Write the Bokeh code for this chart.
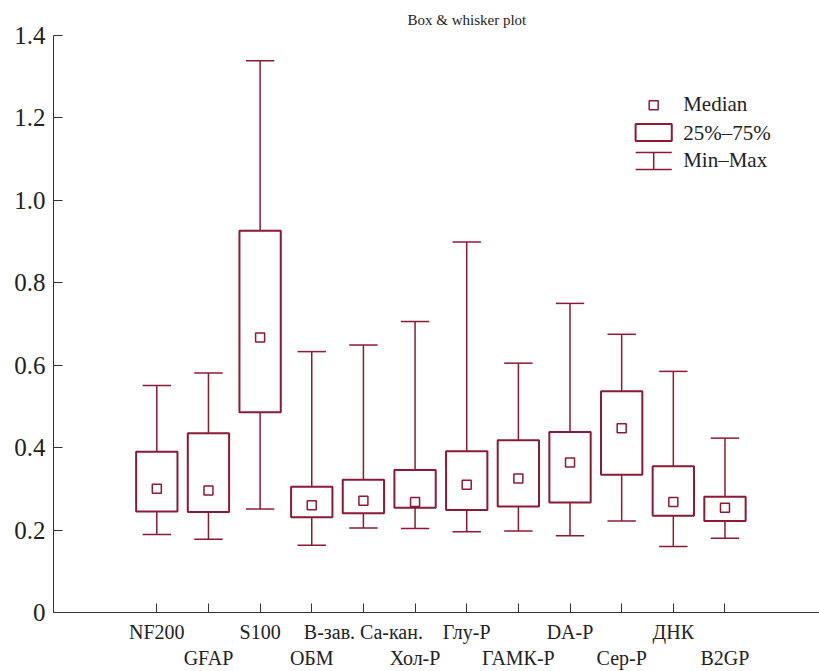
from bokeh.plotting import figure
from bokeh.models import FixedTicker, LinearAxis, Range1d
from bokeh.core.properties import value
from bokeh.embed import file_html
from bokeh.resources import INLINE

categories = ["NF200", "GFAP", "S100", "ОБМ", "В-зав. Са-кан.", "Хол-Р", "Глу-Р",
              "ГАМК-Р", "DA-P", "Сер-Р", "ДНК", "B2GP"]
mins    = [0.189, 0.178, 0.251, 0.163, 0.205, 0.204, 0.196, 0.198, 0.186, 0.222, 0.160, 0.180]
q1      = [0.245, 0.244, 0.486, 0.231, 0.241, 0.254, 0.249, 0.257, 0.267, 0.334, 0.235, 0.222]
medians = [0.300, 0.296, 0.667, 0.260, 0.271, 0.268, 0.310, 0.325, 0.364, 0.447, 0.268, 0.254]
q3      = [0.390, 0.435, 0.926, 0.305, 0.322, 0.346, 0.391, 0.418, 0.438, 0.537, 0.355, 0.281]
maxs    = [0.551, 0.581, 1.339, 0.633, 0.649, 0.706, 0.899, 0.605, 0.750, 0.675, 0.585, 0.423]
y_ticks = [0, 0.2, 0.4, 0.6, 0.8, 1.0, 1.2, 1.4]
y_tick_labels = ["0", "0.2", "0.4", "0.6", "0.8", "1.0", "1.2", "1.4"]
legend_labels = ["Median", "25%–75%", "Min–Max"]

COL = "#8b1a35"
FONT = "Liberation Serif"
TXT = "#222222"

xs = list(range(1, len(categories) + 1))

p = figure(width=819, height=671, output_backend="svg", toolbar_location=None,
           x_range=Range1d(-1, 13.83), y_range=Range1d(0, 1.4),
           min_border_left=53, min_border_right=0, min_border_top=35, min_border_bottom=57,
           title="Box & whisker plot")
p.title.text_font = FONT
p.title.text_font_size = "15px"
p.title.text_font_style = "normal"
p.title.align = "left"
p.title.offset = 354
p.title.text_color = TXT
p.title.standoff = 16
p.grid.visible = False
p.outline_line_color = None

# whiskers
p.segment(x0=xs, y0=mins, x1=xs, y1=q1, line_color=COL, line_width=1.5)
p.segment(x0=xs, y0=q3, x1=xs, y1=maxs, line_color=COL, line_width=1.5)
cw = 0.275
p.segment(x0=[x - cw for x in xs], y0=mins, x1=[x + cw for x in xs], y1=mins, line_color=COL, line_width=1.5)
p.segment(x0=[x - cw for x in xs], y0=maxs, x1=[x + cw for x in xs], y1=maxs, line_color=COL, line_width=1.5)
# boxes
bw = 0.4
p.quad(left=[x - bw for x in xs], right=[x + bw for x in xs], bottom=q1, top=q3,
       fill_color="white", line_color=COL, line_width=2)
# medians
p.scatter(x=xs, y=medians, marker="square", size=9, fill_color="white", line_color=COL, line_width=1.5)

# legend (manual)
lx, lw = 10.62, 0.35
p.scatter(x=[lx], y=[1.231], marker="square", size=9, fill_color="white", line_color=COL, line_width=1.5)
p.quad(left=[lx - lw], right=[lx + lw], bottom=[1.144], top=[1.185],
       fill_color="white", line_color=COL, line_width=2)
p.segment(x0=[lx, lx - lw, lx - lw], y0=[1.075, 1.116, 1.075],
          x1=[lx, lx + lw, lx + lw], y1=[1.116, 1.116, 1.075], line_color=COL, line_width=1.5)
p.text(x=[11.19] * 3, y=[1.233, 1.163, 1.098], text=legend_labels,
       text_font=value(FONT), text_font_size="21px", text_baseline="middle",
       text_color=TXT)

# y axis
ya = p.yaxis[0]
ya.ticker = FixedTicker(ticks=y_ticks)
ya.major_label_overrides = {t: s for t, s in zip(y_ticks, y_tick_labels)}
ya.major_tick_in = 9
ya.major_tick_out = 0
ya.minor_tick_line_color = None
ya.major_label_text_font = FONT
ya.major_label_text_font_size = "25px"
ya.major_label_text_color = TXT
ya.major_label_standoff = 8
ya.axis_line_color = "#333333"
ya.major_tick_line_color = "#333333"

# x axis row 1
xa = p.xaxis[0]
xa.ticker = FixedTicker(ticks=xs)
xa.major_label_overrides = {x: (c if x % 2 == 1 else "") for x, c in zip(xs, categories)}
xa.major_tick_in = 9
xa.major_tick_out = 0
xa.minor_tick_line_color = None
xa.major_label_text_font = FONT
xa.major_label_text_font_size = "20px"
xa.major_label_text_color = TXT
xa.major_label_standoff = 8
xa.axis_line_color = "#333333"
xa.major_tick_line_color = "#333333"

# x axis row 2
xb = LinearAxis(ticker=FixedTicker(ticks=[x for x in xs if x % 2 == 0]),
                major_label_overrides={x: c for x, c in zip(xs, categories) if x % 2 == 0})
xb.axis_line_color = None
xb.major_tick_line_color = None
xb.minor_tick_line_color = None
xb.major_tick_in = 0
xb.major_tick_out = 0
xb.major_label_text_font = FONT
xb.major_label_text_font_size = "20px"
xb.major_label_text_color = TXT
xb.major_label_standoff = 1
p.add_layout(xb, "below")

open("out.html", "w").write(file_html(p, INLINE))
